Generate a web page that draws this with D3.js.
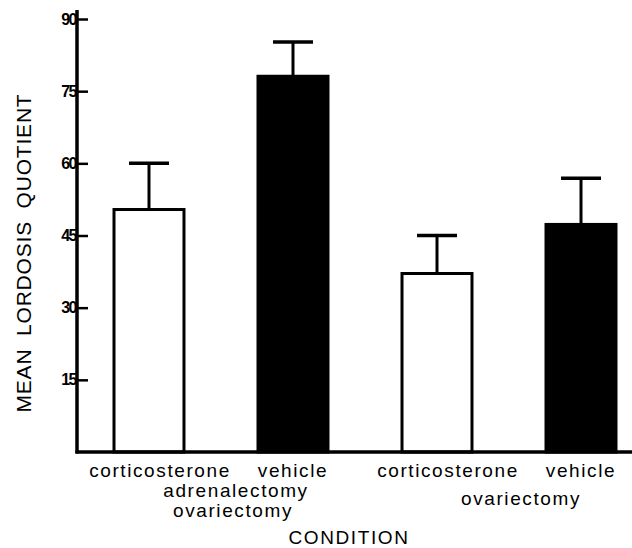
<!DOCTYPE html>
<html>
<head>
<meta charset="utf-8">
<script src="https://cdn.jsdelivr.net/npm/d3@7"></script>
<style>
  body { margin: 0; background: #fff; }
  svg { display: block; }
  text { font-family: "Liberation Sans", Arial, sans-serif; fill: #000; }
</style>
</head>
<body>
<svg id="chart" width="632" height="548"></svg>
<script>
// data
const conditions = ['adx-cort', 'adx-veh', 'ovx-cort', 'ovx-veh']
const treatments = ['corticosterone', 'vehicle', 'corticosterone', 'vehicle']
const means = [50.4, 78.1, 37.1, 47.3]
const upperErr = [60.0, 85.2, 45.0, 56.9]
const fills = ['white', 'black', 'white', 'black']
const yTicks = [15, 30, 45, 60, 75, 90]

let svg = d3.select('#chart')

let x = d3.scaleBand()
    .domain(conditions)
    .range([78, 652])
    .paddingInner(0.514)
    .paddingOuter(0.25)

let y = d3.scaleLinear()
    .domain([0, 90])
    .range([452, 19])

// bars
svg.selectAll('.bar')
    .data(conditions)
    .enter().append('rect')
    .attr('class', 'bar')
    .attr('x', d => x(d))
    .attr('y', (d, i) => y(means[i]))
    .attr('width', x.bandwidth())
    .attr('height', (d, i) => y(0) - y(means[i]))
    .style('fill', (d, i) => fills[i])
    .style('stroke', '#000')
    .style('stroke-width', 3)

// error bars (upper only)
let err = svg.selectAll('.err')
    .data(conditions)
    .enter().append('g')
    .attr('class', 'err')

err.append('line')
    .attr('x1', d => x(d) + x.bandwidth() / 2)
    .attr('x2', d => x(d) + x.bandwidth() / 2)
    .attr('y1', (d, i) => y(means[i]))
    .attr('y2', (d, i) => y(upperErr[i]))
    .style('stroke', '#000')
    .style('stroke-width', 3)

err.append('line')
    .attr('x1', d => x(d) + x.bandwidth() / 2 - 20)
    .attr('x2', d => x(d) + x.bandwidth() / 2 + 20)
    .attr('y1', (d, i) => y(upperErr[i]))
    .attr('y2', (d, i) => y(upperErr[i]))
    .style('stroke', '#000')
    .style('stroke-width', 3.5)

// y axis
let yAxis = svg.append('g')
    .attr('transform', 'translate(77,0)')
    .call(d3.axisRight(y).tickValues(yTicks).tickSize(11).tickPadding(0))
yAxis.select('.domain').remove()
yAxis.selectAll('.tick line').style('stroke', '#000').style('stroke-width', 2.5)
yAxis.selectAll('.tick text')
    .attr('x', -1)
    .attr('text-anchor', 'end')
    .style('font-size', '16px')
    .style('letter-spacing', '-1.5px')
    .style('font-weight', 'bold')

svg.append('line')
    .attr('x1', 77).attr('x2', 77)
    .attr('y1', 10).attr('y2', y(0) + 1.5)
    .style('stroke', '#000').style('stroke-width', 3.5)

// baseline
svg.append('line')
    .attr('x1', 75.5).attr('x2', 632)
    .attr('y1', y(0)).attr('y2', y(0))
    .style('stroke', '#000').style('stroke-width', 3.5)

// labels
let labelStyle = sel => sel
    .style('font-size', '19px')
    .style('letter-spacing', '1.6px')
    .attr('text-anchor', 'middle')

svg.selectAll('.treat')
    .data(conditions)
    .enter().append('text')
    .attr('class', 'treat')
    .attr('x', (d, i) => x(d) + x.bandwidth() / 2 + (i % 2 === 0 ? 11 : 0))
    .attr('y', 477)
    .text((d, i) => treatments[i])
    .call(labelStyle)

svg.append('text').attr('x', 236).attr('y', 497).text('adrenalectomy').call(labelStyle)
svg.append('text').attr('x', 233).attr('y', 517).text('ovariectomy').call(labelStyle)
svg.append('text').attr('x', 521).attr('y', 505).text('ovariectomy').call(labelStyle)
svg.append('text').attr('x', 349).attr('y', 544).text('CONDITION').call(labelStyle)

svg.append('text')
    .attr('transform', 'translate(30.5,253) rotate(-90)')
    .attr('text-anchor', 'middle')
    .style('font-size', '21px')
    .style('letter-spacing', '0.8px')
    .style('word-spacing', '6px')
    .text('MEAN LORDOSIS QUOTIENT')
</script>
</body>
</html>
